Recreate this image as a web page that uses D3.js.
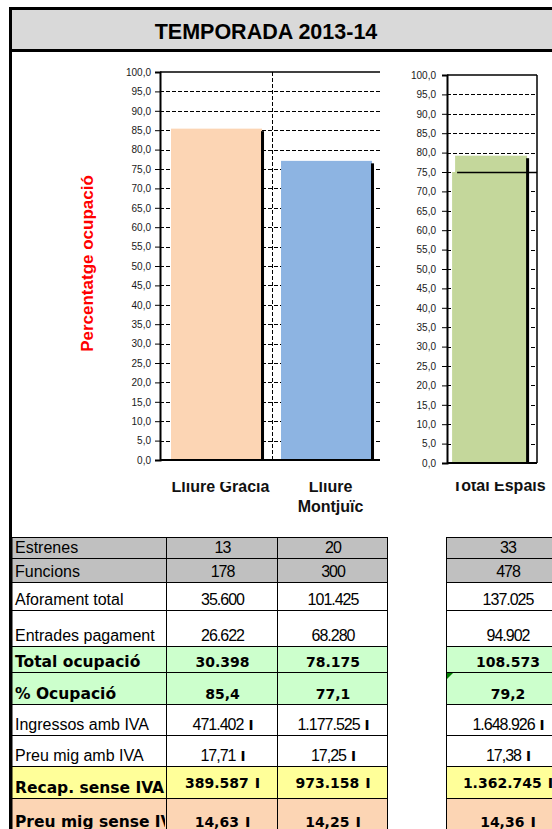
<!DOCTYPE html>
<html>
<head>
<meta charset="utf-8">
<script src="https://cdn.jsdelivr.net/npm/d3@7"></script>
<style>
  html, body { margin: 0; padding: 0; background: #fff; }
  svg { display: block; }
</style>
</head>
<body>
<div id="chart"></div>
<script>
// --- data ---
var titol = "TEMPORADA 2013-14";
var espais = ["Lliure Gràcia", "Lliure Montjuïc"];
var espaiTotal = ["Total Espais"];
var ocupacio = [85.4, 77.1];
var ocupacioTotal = [79.2];
var objectiu = [75];
var yTicks = d3.range(0, 101, 5);
var yTitol = "Percentatge ocupació";

var rowLabels = ["Estrenes", "Funcions", "Aforament total", "Entrades pagament", "Total ocupació",
  "% Ocupació", "Ingressos amb IVA", "Preu mig amb IVA", "Recap. sense IVA", "Preu mig sense IVA"];
var colGracia = [13, 178, 35600, 26622, 30398, 85.4, 471402, 17.71, 389587, 14.63];
var colMontjuic = [20, 300, 101425, 68280, 78175, 77.1, 1177525, 17.25, 973158, 14.25];
var colTotal = [33, 478, 137025, 94902, 108573, 79.2, 1648926, 17.38, 1362745, 14.36];

// --- styles / layout ---
var rowStyle = [
  { fill: "#c0c0c0", bold: false, fmt: ",d", euro: false },
  { fill: "#c0c0c0", bold: false, fmt: ",d", euro: false },
  { fill: "#ffffff", bold: false, fmt: ",d", euro: false },
  { fill: "#ffffff", bold: false, fmt: ",d", euro: false },
  { fill: "#ccffcc", bold: true, fmt: ",d", euro: false },
  { fill: "#ccffcc", bold: true, fmt: ".1f", euro: false },
  { fill: "#ffffff", bold: false, fmt: ",d", euro: true },
  { fill: "#ffffff", bold: false, fmt: ".2f", euro: true },
  { fill: "#ffff99", bold: true, fmt: ",d", euro: true, numUp: 5 },
  { fill: "#fcd5b4", bold: true, fmt: ".2f", euro: true }
];
var rowTops = [537, 558, 582, 610, 646, 672, 704, 735, 766, 798, 832];
var colEdges = [[166, 277], [277, 387], [446, 568]];
var labelCol = [12, 166];

var W = 552, H = 829;
var ca = d3.formatLocale({ decimal: ",", thousands: ".", grouping: [3], currency: ["", ""] });

var svg = d3.select("#chart").append("svg")
  .attr("width", W)
  .attr("height", H);

// frame + title band
svg.append("rect").attr("x", 11).attr("y", 9).attr("width", W).attr("height", 41).attr("fill", "#d9d9d9");
svg.append("line").attr("x1", 9).attr("x2", W).attr("y1", 8.5).attr("y2", 8.5).attr("stroke", "#000").attr("stroke-width", 3);
svg.append("line").attr("x1", 9).attr("x2", W).attr("y1", 50.5).attr("y2", 50.5).attr("stroke", "#000").attr("stroke-width", 3);
svg.append("line").attr("x1", 10.5).attr("x2", 10.5).attr("y1", 7).attr("y2", H).attr("stroke", "#000").attr("stroke-width", 3);
svg.append("text")
  .attr("x", 266).attr("y", 38.5)
  .attr("text-anchor", "middle")
  .style("font", "bold 21.5px 'Liberation Sans', Arial, sans-serif")
  .attr("fill", "#000")
  .text(titol);

// clip for the category labels (top is cut in the original)
var defs = svg.append("defs");
defs.append("clipPath").attr("id", "labclip")
  .append("rect").attr("x", 0).attr("y", 482).attr("width", W).attr("height", 50);
defs.append("clipPath").attr("id", "rowclip")
  .append("rect").attr("x", labelCol[0]).attr("y", 0).attr("width", labelCol[1] - labelCol[0] - 1).attr("height", H);

function drawChart(cfg) {
  var x = d3.scaleBand()
    .domain(cfg.cats)
    .range([cfg.left, cfg.right])
    .paddingInner(cfg.pi)
    .paddingOuter(cfg.po)
    .align(cfg.align);
  var y = d3.scaleLinear()
    .domain([0, 100])
    .range([cfg.bottom, cfg.top]);

  var g = svg.append("g");

  // dashed gridlines
  g.selectAll(".grid")
    .data(yTicks.filter(function (d) { return d > 0 && d < 100; }))
    .enter().append("line")
    .attr("x1", cfg.left).attr("x2", cfg.right)
    .attr("y1", function (d) { return Math.round(y(d)) + 0.5; })
    .attr("y2", function (d) { return Math.round(y(d)) + 0.5; })
    .attr("stroke", "#000")
    .attr("stroke-dasharray", "4,2");

  // dashed separator between categories
  if (cfg.cats.length > 1) {
    var sx = Math.round(x(cfg.cats[1]) - x.step() * x.paddingInner() / 2) + 0.5;
    g.append("line")
      .attr("x1", sx).attr("x2", sx)
      .attr("y1", y(100)).attr("y2", y(0))
      .attr("stroke", "#000")
      .attr("stroke-dasharray", "4,2");
  }

  // secondary bar (behind) for the objective
  if (cfg.target) {
    g.selectAll(".tbar")
      .data(cfg.target)
      .enter().append("rect")
      .attr("x", function (d, i) { return x(cfg.cats[i]) - 3; })
      .attr("y", function (d) { return y(d); })
      .attr("width", x.bandwidth())
      .attr("height", function (d) { return y(0) - y(d); })
      .attr("fill", cfg.colors[0]);
  }

  // bars
  g.selectAll(".bar")
    .data(cfg.values)
    .enter().append("rect")
    .attr("x", function (d, i) { return x(cfg.cats[i]); })
    .attr("y", function (d) { return y(d); })
    .attr("width", x.bandwidth())
    .attr("height", function (d) { return y(0) - y(d); })
    .attr("fill", function (d, i) { return cfg.colors[i]; });

  // bar shadow on the right side
  g.selectAll(".shadow")
    .data(cfg.values)
    .enter().append("rect")
    .attr("x", function (d, i) { return x(cfg.cats[i]) + x.bandwidth() - 1; })
    .attr("y", function (d) { return y(d) + 2.5; })
    .attr("width", 3)
    .attr("height", function (d) { return y(0) - y(d) - 2.5; })
    .attr("fill", "#000");

  if (cfg.target) {
    g.selectAll(".tline")
      .data(cfg.target)
      .enter().append("line")
      .attr("x1", function (d, i) { return x(cfg.cats[i]) + 2; })
      .attr("x2", cfg.right)
      .attr("y1", function (d) { return Math.round(y(d)) + 0.5; })
      .attr("y2", function (d) { return Math.round(y(d)) + 0.5; })
      .attr("stroke", "#000")
      .attr("stroke-width", 1.5);
  }

  // plot borders
  g.append("line").attr("x1", cfg.left).attr("x2", cfg.right)
    .attr("y1", y(100)).attr("y2", y(100)).attr("stroke", "#000").attr("stroke-width", 1.5);
  g.append("line").attr("x1", cfg.left).attr("x2", cfg.right)
    .attr("y1", y(0)).attr("y2", y(0)).attr("stroke", "#000").attr("stroke-width", 2);
  if (cfg.rightBorder) {
    g.append("line").attr("x1", cfg.right).attr("x2", cfg.right)
      .attr("y1", y(100)).attr("y2", y(0)).attr("stroke", "#000").attr("stroke-width", 1.5);
  }

  // y axis
  var yAxis = d3.axisLeft(y)
    .tickValues(yTicks)
    .tickSize(5)
    .tickPadding(cfg.pad)
    .tickFormat(function (d) { return ca.format(".1f")(d); });
  var ax = g.append("g")
    .attr("transform", "translate(" + cfg.left + ",0)")
    .call(yAxis);
  ax.select(".domain").attr("stroke", "#000").attr("stroke-width", 2);
  ax.selectAll(".tick line").attr("stroke", "#000");
  ax.selectAll(".tick text")
    .style("font", "10px 'Liberation Sans', Arial, sans-serif")
    .attr("fill", "#1a1a1a");

  // category labels, wrapped when too wide
  var labs = g.append("g").attr("clip-path", "url(#labclip)");
  cfg.cats.forEach(function (c) {
    var cx = x(c) + x.bandwidth() / 2 + cfg.labelDx;
    var t = labs.append("text")
      .attr("x", cx)
      .attr("y", cfg.labelY)
      .attr("text-anchor", "middle")
      .style("font", "bold 16px 'Liberation Sans', Arial, sans-serif")
      .attr("fill", "#111");
    t.text(c);
    if (t.node().getComputedTextLength() > 110) {
      t.text(null);
      c.split(" ").forEach(function (w, k) {
        t.append("tspan")
          .attr("x", cx)
          .attr("dy", k === 0 ? 0 : 20)
          .text(w);
      });
    }
  });
}

drawChart({
  cats: espais, values: ocupacio, colors: ["#fcd5b4", "#8db4e2"],
  left: 160, right: 380, top: 72, bottom: 460,
  pi: 0.1727, po: 0.0864, align: 0.58, pad: 4, labelY: 491.5, labelDx: 4, rightBorder: false
});
drawChart({
  cats: espaiTotal, values: ocupacioTotal, colors: ["#c4d79b"], target: objectiu,
  left: 447, right: 537, top: 75, bottom: 463,
  pi: 0.2, po: 0.1, align: 0.45, pad: 6, labelY: 491, labelDx: 8, rightBorder: true
});

// y title
svg.append("text")
  .attr("transform", "translate(93,263.5) rotate(-90)")
  .attr("text-anchor", "middle")
  .style("font", "bold 17px 'Liberation Sans', Arial, sans-serif")
  .attr("fill", "#ff0000")
  .text(yTitol);

// --- table ---
var cols = [colGracia, colMontjuic, colTotal];
var table = svg.append("g");

rowLabels.forEach(function (label, i) {
  var st = rowStyle[i];
  var top = rowTops[i], bottom = rowTops[i + 1];
  var base = bottom - 5;
  var labFont = st.bold ? "bold 15.5px 'DejaVu Sans', Verdana, sans-serif"
                        : "16px 'Liberation Sans', Arial, sans-serif";
  var numFont = st.bold ? "bold 14px 'DejaVu Sans', Verdana, sans-serif"
                        : "16px 'Liberation Sans', Arial, sans-serif";

  table.append("rect")
    .attr("x", labelCol[0]).attr("y", top + 0.5)
    .attr("width", labelCol[1] - labelCol[0] + 0.5).attr("height", bottom - top)
    .attr("fill", st.fill).attr("stroke", "#000");
  table.append("text")
    .attr("clip-path", "url(#rowclip)")
    .attr("x", 15).attr("y", base)
    .style("font", labFont)
    .attr("fill", "#000")
    .text(label);

  cols.forEach(function (col, j) {
    var e = colEdges[j];
    table.append("rect")
      .attr("x", e[0] + 0.5).attr("y", top + 0.5)
      .attr("width", e[1] - e[0]).attr("height", bottom - top)
      .attr("fill", st.fill).attr("stroke", "#000");
    var t = table.append("text")
      .attr("x", (e[0] + e[1]) / 2 + 1).attr("y", base - (st.numUp || 0))
      .attr("text-anchor", "middle")
      .style("font", numFont)
      .style("letter-spacing", st.bold ? "0px" : "-1px")
      .attr("fill", "#000");
    t.append("tspan").text(ca.format(st.fmt)(col[i]));
    if (st.euro) {
      t.append("tspan")
        .attr("dx", st.bold ? 6 : 5)
        .style("font", st.bold ? "900 14.5px 'DejaVu Sans', sans-serif" : "bold 13.5px 'DejaVu Sans', sans-serif")
        .text("I");
    }
  });
});

// small green marker in the total column
var mk = rowLabels.indexOf("% Ocupació");
table.append("path")
  .attr("d", d3.line()([[colEdges[2][0] + 1, rowTops[mk] + 1], [colEdges[2][0] + 7, rowTops[mk] + 1], [colEdges[2][0] + 1, rowTops[mk] + 7]]) + "Z")
  .attr("fill", "#008000");
</script>
</body>
</html>
